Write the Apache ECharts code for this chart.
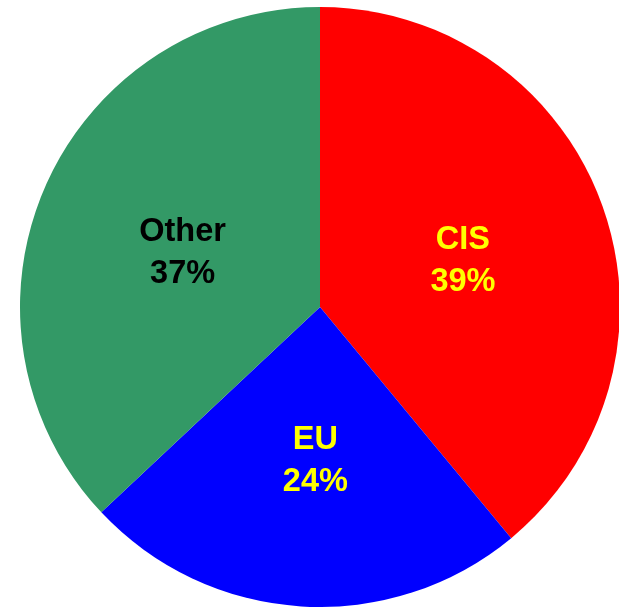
<!DOCTYPE html>
<html>
<head>
<meta charset="utf-8">
<style>
  html, body { margin: 0; padding: 0; background: #fff; }
  #chart { width: 619px; height: 607px; }
</style>
<script src="https://cdn.jsdelivr.net/npm/echarts@6/dist/echarts.min.js"></script>
</head>
<body>
<div id="chart"></div>
<script>
// Share of total by region (percent)
const regions = ['CIS', 'EU', 'Other'];
const shares = [39, 24, 37];
const sliceColors = ['#FF0000', '#0000FF', '#339966'];
const labelColors = ['#FFFF00', '#FFFF00', '#000000'];
// small nudges of each label from its default inside position
const labelNudges = [[-1, 6], [5, 1], [3, 7]];

const chart = echarts.init(document.getElementById('chart'));

chart.setOption({
  animation: false,
  series: [{
    type: 'pie',
    center: [320, 307],
    radius: [0, 300],
    startAngle: 90,
    clockwise: true,
    silent: true,
    itemStyle: { borderWidth: 0 },
    label: {
      show: true,
      position: 'inside',
      formatter: '{b}\n{c}%',
      fontFamily: '"Liberation Sans", Arial, sans-serif',
      fontWeight: 'bold',
      fontSize: 32.5,
      lineHeight: 42
    },
    labelLine: { show: false },
    data: regions.map((name, i) => ({
      name: name,
      value: shares[i],
      itemStyle: { color: sliceColors[i] },
      label: { color: labelColors[i], offset: labelNudges[i] }
    }))
  }]
});
</script>
</body>
</html>
